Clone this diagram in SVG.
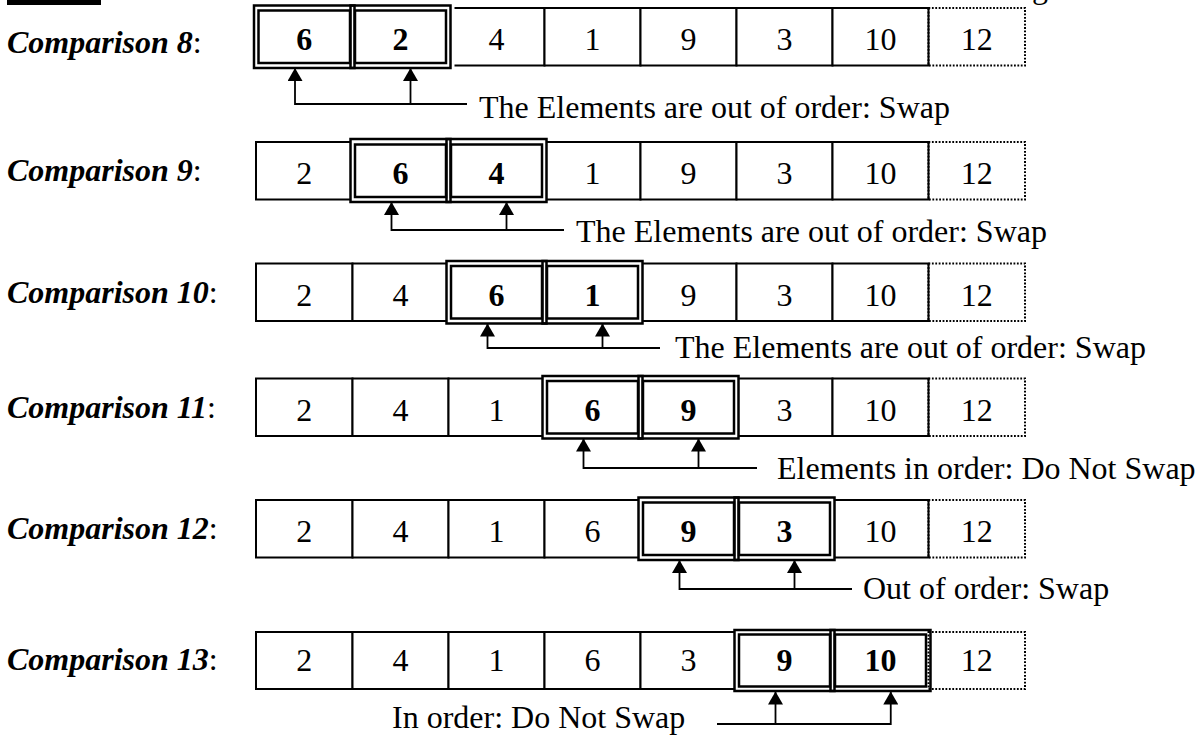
<svg xmlns="http://www.w3.org/2000/svg" width="1201" height="736" viewBox="0 0 1201 736">
<style>
.lbl{font-family:"Liberation Serif","Times New Roman",serif;font-size:32px;font-weight:bold;font-style:italic;fill:#000}
.lbl .c{font-weight:normal;font-style:normal}
.num{font-family:"Liberation Serif","Times New Roman",serif;font-size:32px;fill:#000;text-anchor:middle}
.bold{font-weight:bold}
.note{font-family:"Liberation Serif","Times New Roman",serif;font-size:32px;fill:#000}
.cell{fill:#fff;stroke:#000;stroke-width:2}
.dot{fill:none;stroke:#000;stroke-width:2;stroke-dasharray:1.8 1.6}
.hw{fill:#fff;stroke:none}
.hl{fill:none;stroke:#000;stroke-width:2.5}
.con{fill:none;stroke:#000;stroke-width:1.8}
</style>
<defs>
<marker id="ah" markerUnits="userSpaceOnUse" viewBox="0 0 13 15" refX="13" refY="7.5" markerWidth="13" markerHeight="15" orient="auto">
<path d="M0,0 L13,7.5 L0,15 z" fill="#000"/>
</marker>
</defs>
<rect x="7" y="0" width="94" height="5" fill="#000"/>
<text class="note" x="1032" y="-2">g</text>

<g id="row1">
<text class="lbl" x="7" y="53">Comparison 8<tspan class="c">:</tspan></text>
<rect class="cell" x="448.5" y="8" width="96" height="57.5"/>
<rect class="cell" x="544.5" y="8" width="96" height="57.5"/>
<rect class="cell" x="640.5" y="8" width="96" height="57.5"/>
<rect class="cell" x="736.5" y="8" width="96" height="57.5"/>
<rect class="cell" x="832.5" y="8" width="96" height="57.5"/>
<rect class="hw" x="254" y="5.5" width="200.5" height="62.5"/>
<rect class="hl" x="254" y="5.5" width="100.5" height="62.5"/>
<rect class="hl" x="258.5" y="10.5" width="91.5" height="52.5"/>
<rect class="hl" x="350.5" y="5.5" width="100" height="62.5"/>
<rect class="hl" x="355" y="10.5" width="91" height="52.5"/>
<rect class="dot" x="928.5" y="8" width="96.5" height="57.5"/>
<text class="num bold" x="304.25" y="50">6</text>
<text class="num bold" x="400.5" y="50">2</text>
<text class="num" x="496.5" y="50">4</text>
<text class="num" x="592.5" y="50">1</text>
<text class="num" x="688.5" y="50">9</text>
<text class="num" x="784.5" y="50">3</text>
<text class="num" x="880.5" y="50">10</text>
<text class="num" x="976.75" y="50">12</text>
</g>

<g id="row2">
<text class="lbl" x="7" y="181">Comparison 9<tspan class="c">:</tspan></text>
<rect class="cell" x="256" y="142" width="96.5" height="57.5"/>
<rect class="cell" x="544.5" y="142" width="96" height="57.5"/>
<rect class="cell" x="640.5" y="142" width="96" height="57.5"/>
<rect class="cell" x="736.5" y="142" width="96" height="57.5"/>
<rect class="cell" x="832.5" y="142" width="96" height="57.5"/>
<rect class="hw" x="350.5" y="139" width="196" height="63"/>
<rect class="hl" x="350.5" y="139" width="100" height="63"/>
<rect class="hl" x="355" y="144.5" width="91" height="52.5"/>
<rect class="hl" x="446.5" y="139" width="100" height="63"/>
<rect class="hl" x="451" y="144.5" width="91" height="52.5"/>
<rect class="dot" x="928.5" y="142" width="96.5" height="57.5"/>
<text class="num" x="304.25" y="184">2</text>
<text class="num bold" x="400.5" y="184">6</text>
<text class="num bold" x="496.5" y="184">4</text>
<text class="num" x="592.5" y="184">1</text>
<text class="num" x="688.5" y="184">9</text>
<text class="num" x="784.5" y="184">3</text>
<text class="num" x="880.5" y="184">10</text>
<text class="num" x="976.75" y="184">12</text>
</g>

<g id="row3">
<text class="lbl" x="7" y="302.5">Comparison 10<tspan class="c">:</tspan></text>
<rect class="cell" x="256" y="263.5" width="96.5" height="57.5"/>
<rect class="cell" x="352.5" y="263.5" width="96" height="57.5"/>
<rect class="cell" x="640.5" y="263.5" width="96" height="57.5"/>
<rect class="cell" x="736.5" y="263.5" width="96" height="57.5"/>
<rect class="cell" x="832.5" y="263.5" width="96" height="57.5"/>
<rect class="hw" x="446.5" y="261" width="196" height="62.5"/>
<rect class="hl" x="446.5" y="261" width="100" height="62.5"/>
<rect class="hl" x="451" y="266" width="91" height="52.5"/>
<rect class="hl" x="542.5" y="261" width="100" height="62.5"/>
<rect class="hl" x="547" y="266" width="91" height="52.5"/>
<rect class="dot" x="928.5" y="263.5" width="96.5" height="57.5"/>
<text class="num" x="304.25" y="305.5">2</text>
<text class="num" x="400.5" y="305.5">4</text>
<text class="num bold" x="496.5" y="305.5">6</text>
<text class="num bold" x="592.5" y="305.5">1</text>
<text class="num" x="688.5" y="305.5">9</text>
<text class="num" x="784.5" y="305.5">3</text>
<text class="num" x="880.5" y="305.5">10</text>
<text class="num" x="976.75" y="305.5">12</text>
</g>

<g id="row4">
<text class="lbl" x="7" y="417.5">Comparison 11<tspan class="c">:</tspan></text>
<rect class="cell" x="256" y="378.5" width="96.5" height="57.5"/>
<rect class="cell" x="352.5" y="378.5" width="96" height="57.5"/>
<rect class="cell" x="448.5" y="378.5" width="96" height="57.5"/>
<rect class="cell" x="736.5" y="378.5" width="96" height="57.5"/>
<rect class="cell" x="832.5" y="378.5" width="96" height="57.5"/>
<rect class="hw" x="542.5" y="376" width="196" height="62.5"/>
<rect class="hl" x="542.5" y="376" width="100" height="62.5"/>
<rect class="hl" x="547" y="381" width="91" height="52.5"/>
<rect class="hl" x="638.5" y="376" width="100" height="62.5"/>
<rect class="hl" x="643" y="381" width="91" height="52.5"/>
<rect class="dot" x="928.5" y="378.5" width="96.5" height="57.5"/>
<text class="num" x="304.25" y="420.5">2</text>
<text class="num" x="400.5" y="420.5">4</text>
<text class="num" x="496.5" y="420.5">1</text>
<text class="num bold" x="592.5" y="420.5">6</text>
<text class="num bold" x="688.5" y="420.5">9</text>
<text class="num" x="784.5" y="420.5">3</text>
<text class="num" x="880.5" y="420.5">10</text>
<text class="num" x="976.75" y="420.5">12</text>
</g>

<g id="row5">
<text class="lbl" x="7" y="539">Comparison 12<tspan class="c">:</tspan></text>
<rect class="cell" x="256" y="500" width="96.5" height="57.5"/>
<rect class="cell" x="352.5" y="500" width="96" height="57.5"/>
<rect class="cell" x="448.5" y="500" width="96" height="57.5"/>
<rect class="cell" x="544.5" y="500" width="96" height="57.5"/>
<rect class="cell" x="832.5" y="500" width="96" height="57.5"/>
<rect class="hw" x="638.5" y="497.5" width="196" height="62.5"/>
<rect class="hl" x="638.5" y="497.5" width="100" height="62.5"/>
<rect class="hl" x="643" y="502.5" width="91" height="52.5"/>
<rect class="hl" x="734.5" y="497.5" width="100" height="62.5"/>
<rect class="hl" x="739" y="502.5" width="91" height="52.5"/>
<rect class="dot" x="928.5" y="500" width="96.5" height="57.5"/>
<text class="num" x="304.25" y="542">2</text>
<text class="num" x="400.5" y="542">4</text>
<text class="num" x="496.5" y="542">1</text>
<text class="num" x="592.5" y="542">6</text>
<text class="num bold" x="688.5" y="542">9</text>
<text class="num bold" x="784.5" y="542">3</text>
<text class="num" x="880.5" y="542">10</text>
<text class="num" x="976.75" y="542">12</text>
</g>

<g id="row6">
<text class="lbl" x="7" y="670">Comparison 13<tspan class="c">:</tspan></text>
<rect class="cell" x="256" y="632" width="96.5" height="57"/>
<rect class="cell" x="352.5" y="632" width="96" height="57"/>
<rect class="cell" x="448.5" y="632" width="96" height="57"/>
<rect class="cell" x="544.5" y="632" width="96" height="57"/>
<rect class="cell" x="640.5" y="632" width="96" height="57"/>
<rect class="hw" x="734.5" y="630" width="196" height="61"/>
<rect class="hl" x="734.5" y="630" width="100" height="61"/>
<rect class="hl" x="739" y="634.5" width="91" height="52"/>
<rect class="hl" x="830.5" y="630" width="100" height="61"/>
<rect class="hl" x="835" y="634.5" width="91" height="52"/>
<rect class="dot" x="928.5" y="632" width="96.5" height="57"/>
<text class="num" x="304.25" y="671">2</text>
<text class="num" x="400.5" y="671">4</text>
<text class="num" x="496.5" y="671">1</text>
<text class="num" x="592.5" y="671">6</text>
<text class="num" x="688.5" y="671">3</text>
<text class="num bold" x="784.5" y="671">9</text>
<text class="num bold" x="880.5" y="671">10</text>
<text class="num" x="976.75" y="671">12</text>
</g>

<g id="connectors">
<path class="con" d="M467,104 H295 V68" marker-end="url(#ah)"/>
<path class="con" d="M410.5,104 V68" marker-end="url(#ah)"/>
<path class="con" d="M564,230 H391.5 V202" marker-end="url(#ah)"/>
<path class="con" d="M506.5,230 V202" marker-end="url(#ah)"/>
<path class="con" d="M660,348 H487.5 V323.5" marker-end="url(#ah)"/>
<path class="con" d="M602.5,348 V323.5" marker-end="url(#ah)"/>
<path class="con" d="M757,468 H583.5 V438.5" marker-end="url(#ah)"/>
<path class="con" d="M698.5,468 V438.5" marker-end="url(#ah)"/>
<path class="con" d="M852,589 H679.5 V560" marker-end="url(#ah)"/>
<path class="con" d="M794.5,589 V560" marker-end="url(#ah)"/>
<path class="con" d="M717,724 H890.75 V691.5" marker-end="url(#ah)"/>
<path class="con" d="M775.5,724 V691.5" marker-end="url(#ah)"/>
</g>

<g id="notes">
<text class="note" x="479" y="118">The Elements are out of order: Swap</text>
<text class="note" x="576" y="242">The Elements are out of order: Swap</text>
<text class="note" x="675" y="358">The Elements are out of order: Swap</text>
<text class="note" x="777" y="479">Elements in order: Do Not Swap</text>
<text class="note" x="863" y="599">Out of order: Swap</text>
<text class="note" x="392" y="728">In order: Do Not Swap</text>
</g>
</svg>
